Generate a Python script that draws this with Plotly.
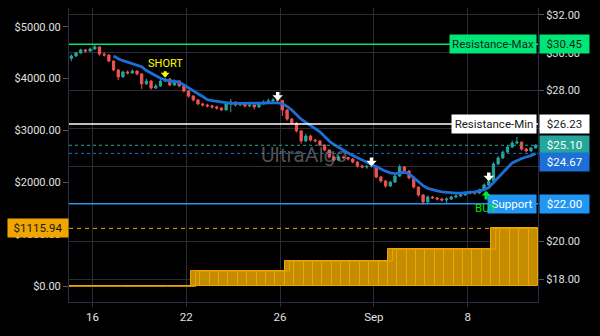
import plotly.graph_objects as go

# ---- price candles (right scale) ----
first_open = 29.70
close = [29.83, 29.99, 30.15, 30.09, 30.20, 30.31, 29.93, 29.88, 29.56, 29.09,
         28.72, 28.98, 28.93, 29.03, 28.88, 28.35, 28.50, 28.13, 28.24, 28.50,
         28.61, 28.29, 28.50, 28.24, 27.97, 27.71, 27.50, 27.29, 27.23, 27.18,
         27.13, 27.07, 26.97, 27.29, 27.39, 27.23, 27.29, 27.18, 27.23, 27.13,
         27.29, 27.39, 27.45, 27.50, 27.47, 26.97, 26.49, 26.28, 25.86, 25.33,
         25.59, 25.38, 25.33, 25.11, 24.85, 24.48, 24.32, 24.48, 24.45, 24.37,
         24.21, 24.00, 23.95, 23.98, 24.00, 23.42, 23.21, 22.94, 23.15, 23.47,
         23.95, 23.74, 23.37, 22.89, 22.47, 22.10, 22.36, 22.31, 22.25, 22.20,
         22.25, 22.36, 22.41, 22.47, 22.57, 22.62, 22.57, 22.73, 23.00, 23.21,
         24.11, 24.43, 24.74, 25.01, 25.22, 25.27, 24.90, 24.80, 24.96, 25.10]
high = [29.92, 30.05, 30.22, 30.20, 30.28, 30.46, 30.33, 30.02, 29.92, 29.60,
        29.12, 29.05, 29.06, 29.12, 29.08, 28.92, 28.62, 28.55, 28.35, 28.60,
        28.70, 28.66, 28.58, 28.55, 28.28, 28.02, 27.76, 27.55, 27.36, 27.30,
        27.25, 27.20, 27.12, 27.35, 27.55, 27.42, 27.40, 27.32, 27.30, 27.28,
        27.36, 27.48, 27.58, 27.60, 27.58, 27.50, 27.00, 26.55, 26.32, 25.90,
        25.72, 25.65, 25.45, 25.38, 25.15, 24.90, 24.55, 24.58, 24.55, 24.50,
        24.42, 24.26, 24.08, 24.05, 24.10, 24.03, 23.48, 23.25, 23.22, 23.55,
        24.08, 24.00, 23.78, 23.40, 22.92, 22.52, 22.45, 22.42, 22.36, 22.32,
        22.35, 22.44, 22.50, 22.55, 22.65, 22.70, 22.68, 22.80, 23.08, 23.30,
        24.20, 24.52, 24.82, 25.10, 25.35, 25.54, 25.30, 24.95, 25.02, 25.16]
low = [29.55, 29.78, 29.95, 30.00, 30.05, 30.15, 29.85, 29.80, 29.50, 29.02,
       28.55, 28.68, 28.85, 28.88, 28.80, 28.08, 28.30, 28.05, 28.08, 28.20,
       28.45, 28.22, 28.25, 28.18, 27.90, 27.62, 27.42, 27.22, 27.15, 27.10,
       27.05, 26.98, 26.92, 26.95, 26.85, 27.15, 27.18, 27.10, 27.12, 27.00,
       27.08, 27.25, 27.35, 27.40, 27.38, 26.65, 26.40, 26.20, 25.78, 25.18,
       25.28, 25.30, 25.25, 25.05, 24.78, 24.40, 24.25, 24.28, 24.38, 24.30,
       24.15, 23.92, 23.88, 23.85, 23.92, 23.35, 23.12, 22.85, 22.90, 23.10,
       23.42, 23.66, 23.30, 22.80, 22.38, 21.95, 22.05, 22.25, 22.18, 22.12,
       21.98, 22.20, 22.30, 22.36, 22.42, 22.50, 22.48, 22.52, 22.68, 22.95,
       23.18, 24.05, 24.38, 24.68, 24.95, 25.15, 24.82, 24.72, 24.76, 24.92]

# moving average (starts once enough bars are available)
ma = [None] * 9 + [
    29.83, 29.68, 29.58, 29.50, 29.42, 29.34, 29.26, 29.06, 28.91, 28.76,
    28.65, 28.57, 28.50, 28.49, 28.43, 28.30, 28.13, 27.96, 27.83, 27.68,
    27.52, 27.46, 27.42, 27.38, 27.34, 27.32, 27.32, 27.32, 27.31, 27.29,
    27.30, 27.32, 27.33, 27.35, 27.35, 27.35, 27.30, 27.16, 26.97, 26.72,
    26.48, 26.31, 26.15, 25.98, 25.81, 25.56, 25.32, 25.14, 24.98, 24.82,
    24.69, 24.56, 24.44, 24.32, 24.19, 24.10, 23.96, 23.84, 23.73, 23.64,
    23.60, 23.63, 23.67, 23.59, 23.38, 23.13, 22.96, 22.82, 22.74, 22.68,
    22.63, 22.60, 22.58, 22.57, 22.56, 22.57, 22.59, 22.63, 22.69, 22.75,
    22.86, 23.13, 23.41, 23.66, 23.91, 24.16, 24.29, 24.40, 24.48, 24.55,
    24.67]

# ---- cumulative profit histogram (left scale), one bar per two candles ----
equity = [0, 0, 0, 0, 0, 0, 0, 0, 0, 0, 0, 0, 0,
          295.4, 295.4, 295.4, 295.4, 295.4, 295.4, 295.4, 295.4, 295.4, 295.4,
          487.6, 487.6, 487.6, 487.6, 487.6, 487.6, 487.6, 487.6, 487.6, 487.6, 487.6,
          718.2, 718.2, 718.2, 718.2, 718.2, 718.2, 718.2, 718.2, 718.2, 718.2, 718.2,
          1115.94, 1115.94, 1115.94, 1115.94, 1115.94]

# ---- levels and signals ----
resistance_max = 30.45
resistance_min = 26.23
support = 22.00
short_idx = 20
buy_idx = 88
exit_idx = [44, 64, 89]

tick_pos = [4.5, 24.5, 44.5, 64.5, 84.5]
tick_text = ["16", "22", "26", "Sep", "8"]
price_ticks = [18, 20, 22, 24, 26, 28, 30, 32]
equity_ticks = [0, 1000, 2000, 3000, 4000, 5000]

UP, DOWN = "#26a69a", "#ef5350"
MA_BLUE = "#1c6fd6"
ORANGE = "#f0a500"
GRID = "#2c2c36"
AXIS = "#2c2c44"
TXT = "#e0e0e0"
FONT = "Roboto"

n = len(close)
idx = list(range(n))
opens = [first_open] + close[:-1]


def money(v):
    return f"${v:.2f}"


fig = go.Figure()

# histogram bars on the left scale
slot_x = [2 * k + 0.5 for k in range(len(equity))]
fig.add_trace(go.Bar(
    x=slot_x, y=equity, width=2, yaxis="y2",
    marker=dict(color="#c48c00", line=dict(color="#eaa700", width=1)),
    hoverinfo="skip", showlegend=False))
fig.add_trace(go.Scatter(
    x=[-0.5] + slot_x, y=[equity[0]] + equity, yaxis="y2", mode="lines",
    line=dict(color=ORANGE, width=1, shape="hv"),
    hoverinfo="skip", showlegend=False))

fig.add_trace(go.Candlestick(
    x=idx, open=opens, high=high, low=low, close=close,
    increasing=dict(line=dict(color=UP, width=1), fillcolor=UP),
    decreasing=dict(line=dict(color=DOWN, width=1), fillcolor=DOWN),
    whiskerwidth=0, hoverinfo="skip", showlegend=False))

fig.add_trace(go.Scatter(
    x=idx, y=ma, mode="lines", line=dict(color=MA_BLUE, width=2.8),
    hoverinfo="skip", showlegend=False))

shapes = []
annotations = []


def hline(value, color, width, dash="solid", yref="y"):
    shapes.append(dict(type="line", xref="paper", x0=0, x1=1, yref=yref,
                       y0=value, y1=value, layer="above",
                       line=dict(color=color, width=width, dash=dash)))


def right_tag(value, text, bg, fg, yshift=0):
    annotations.append(dict(
        xref="paper", x=1, xanchor="left", xshift=1, yref="y", y=value,
        yshift=yshift, text=text, showarrow=False, bgcolor=bg, width=49,
        height=18, borderpad=0, font=dict(family=FONT, size=11.5, color=fg)))


def left_tag(value, text, bg, fg, width):
    annotations.append(dict(
        xref="paper", x=1, xanchor="right", xshift=-1, yref="y", y=value,
        text=text, showarrow=False, bgcolor=bg, width=width, height=18,
        borderpad=0, font=dict(family=FONT, size=11.5, color=fg)))


# resistance / support levels
hline(resistance_max, "#00e676", 1.5)
hline(resistance_min, "#ffffff", 1.5)
hline(support, "#2196f3", 1.5)
# last price and moving-average value lines
hline(close[-1], UP, 1, "3px,3px")
hline(ma[-1], MA_BLUE, 1, "3px,3px")
# latest cumulative profit
hline(equity[-1], ORANGE, 1, "4px,4px", yref="y2")

left_tag(resistance_max, "Resistance-Max", "#00e676", "#0b2a18", 86)
right_tag(resistance_max, money(resistance_max), "#00e676", "#0b2a18")
left_tag(resistance_min, "Resistance-Min", "#ffffff", "#1a1a1a", 84)
right_tag(resistance_min, money(resistance_min), "#ffffff", "#1a1a1a")
right_tag(close[-1], money(close[-1]), UP, "#ffffff")
right_tag(ma[-1], money(ma[-1]), MA_BLUE, "#ffffff", yshift=-9)
left_tag(support, "Support", "#2196f3", "#ffffff", 48)
right_tag(support, money(support), "#2196f3", "#ffffff")

annotations.append(dict(
    xref="paper", x=0, xanchor="right", yref="y2", y=equity[-1],
    text=money(equity[-1]), showarrow=False, bgcolor=ORANGE, width=60,
    height=18, borderpad=0, font=dict(family=FONT, size=11.5, color="#1a1a1a")))

# trade markers
annotations.append(dict(
    x=short_idx, y=high[short_idx], xref="x", yref="y", text="SHORT",
    showarrow=True, ax=0, ay=-14, arrowhead=1, arrowsize=0.5, arrowwidth=3,
    arrowcolor="#ffff00", font=dict(family=FONT, size=11, color="#ffff00")))
for i in exit_idx:
    annotations.append(dict(
        x=i, y=close[i], xref="x", yref="y", text="", showarrow=True,
        ax=0, ay=-10, arrowhead=1, arrowsize=0.5, arrowwidth=3.5,
        arrowcolor="#ffffff"))
annotations.append(dict(
    x=buy_idx, y=low[buy_idx], xref="x", yref="y", text="BUY", xshift=2,
    showarrow=True, ax=0, ay=17, arrowhead=1, arrowsize=0.5, arrowwidth=3,
    arrowcolor="#00e640", font=dict(family=FONT, size=11.5, color="#00e600")))

# watermark
annotations.append(dict(
    xref="paper", yref="paper", x=0.5, y=0.5, text="UltraAlgo",
    showarrow=False, font=dict(family=FONT, size=21,
                               color="rgba(150,150,150,0.55)")))

fig.update_layout(
    width=600, height=336,
    margin=dict(l=69, r=62, t=8, b=34),
    paper_bgcolor="#000000", plot_bgcolor="#000000",
    font=dict(family=FONT, size=11, color=TXT),
    bargap=0, showlegend=False,
    shapes=shapes, annotations=annotations,
    xaxis=dict(range=[-0.5, n - 0.5], rangeslider=dict(visible=False),
               tickvals=tick_pos, ticktext=tick_text, showgrid=True,
               gridcolor=GRID, gridwidth=1, ticks="outside", ticklen=4,
               tickcolor=GRID, showline=True, linecolor=AXIS, linewidth=1,
               zeroline=False, fixedrange=True,
               tickfont=dict(family=FONT, size=11.5, color=TXT)),
    yaxis=dict(side="right", range=[16.80, 32.37],
               tickvals=price_ticks, ticktext=[money(v) for v in price_ticks],
               showgrid=True, gridcolor=GRID, gridwidth=1, ticks="outside",
               ticklen=5, tickcolor="#555560", showline=True, linecolor=AXIS,
               linewidth=1, zeroline=False,
               tickfont=dict(family=FONT, size=11, color=TXT)),
    yaxis2=dict(side="left", overlaying="y", range=[-302, 5360],
                tickvals=equity_ticks,
                ticktext=[money(v) for v in equity_ticks], showgrid=False,
                ticks="outside", ticklen=5, tickcolor="#555560",
                showline=True, linecolor=AXIS, linewidth=1, zeroline=False,
                tickfont=dict(family=FONT, size=11, color=TXT)),
)

fig.write_html("out.html")
